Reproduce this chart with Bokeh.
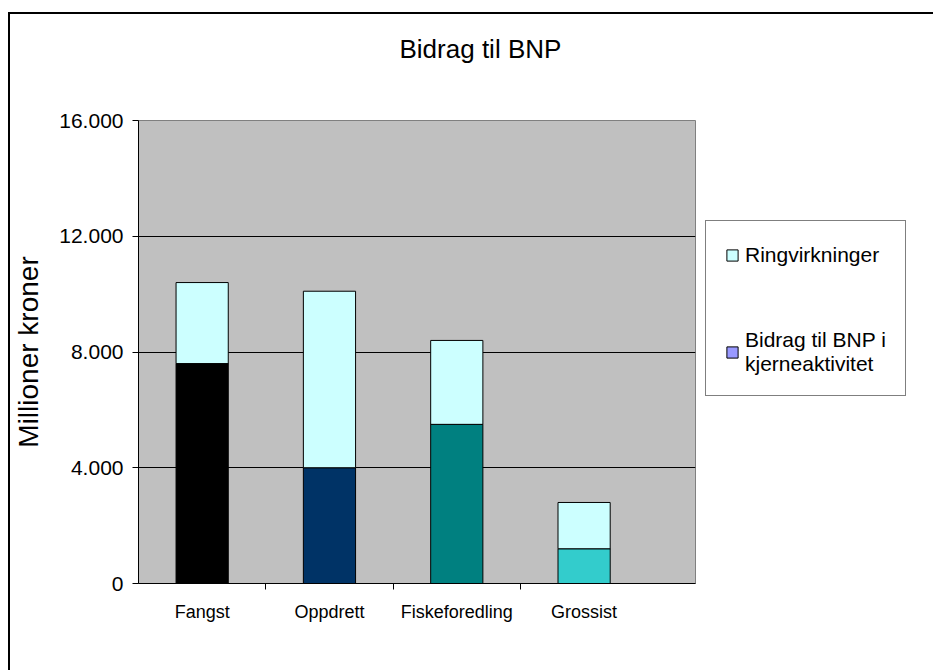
from bokeh.plotting import figure
from bokeh.models import (Range1d, FixedTicker, Legend, LegendItem,
                          ColumnDataSource, Title)
from bokeh.embed import file_html
from bokeh.resources import INLINE

# ---- data ----
categories = ["Fangst", "Oppdrett", "Fiskeforedling", "Grossist"]
kjerneaktivitet = [7600, 4000, 5500, 1200]
ringvirkninger = [2800, 6100, 2900, 1600]
core_colors = ["#000000", "#003366", "#008080", "#33CCCC"]
ring_color = "#CCFFFF"
legend_core_color = "#9999FF"
y_ticks = [0, 4000, 8000, 12000, 16000]
y_tick_labels = ["0", "4.000", "8.000", "12.000", "16.000"]

FONT = "Liberation Sans"

xpos = [i + 0.5 for i in range(len(categories))]
totals = [k + r for k, r in zip(kjerneaktivitet, ringvirkninger)]

src = ColumnDataSource(dict(
    x=xpos, kjerne=kjerneaktivitet, total=totals, ring=ringvirkninger,
    color=core_colors, cat=categories,
))

p = figure(
    frame_width=557, frame_height=463,
    x_range=Range1d(0, 4.375), y_range=Range1d(0, 16000),
    output_backend="svg", toolbar_location=None,
    min_border_left=127, min_border_right=20,
    min_border_top=106, min_border_bottom=87,
    background_fill_color="#C0C0C0", border_fill_color="white",
)
p.styles = {"margin-left": "8px", "margin-top": "12px",
            "border-left": "2px solid black", "border-top": "2px solid black"}
p.outline_line_color = "#808080"
p.outline_line_width = 1

p.title = None
spacer = Title(text=" ", standoff=37, text_font=FONT, text_font_size="1px")
title = Title(text="Bidrag til BNP", align="left", offset=261, standoff=34,
              text_font=FONT, text_font_size="26px", text_font_style="normal",
              text_color="black")
p.add_layout(spacer, "above")
p.add_layout(title, "above")

# bars
legend_core_r = p.vbar(x="x", bottom="kjerne", top="kjerne", width=0.41, source=src,
                       fill_color=legend_core_color, line_color="black", line_width=1)
core_r = p.vbar(x="x", bottom=0, top="kjerne", width=0.41, source=src,
                fill_color="color", line_color="black", line_width=1)
ring_r = p.vbar(x="x", bottom="kjerne", top="total", width=0.41, source=src,
                fill_color=ring_color, line_color="black", line_width=1)

# grid
p.xgrid.visible = False
p.ygrid.ticker = FixedTicker(ticks=y_ticks)
p.ygrid.grid_line_color = "black"
p.ygrid.grid_line_width = 1

# y axis
ya = p.yaxis[0]
ya.ticker = FixedTicker(ticks=y_ticks)
ya.major_label_overrides = {t: l for t, l in zip(y_ticks, y_tick_labels)}
ya.major_tick_out = 6
ya.major_tick_in = 0
ya.minor_tick_line_color = None
ya.major_label_standoff = 9
ya.major_label_text_font = FONT
ya.major_label_text_font_size = "21px"
ya.major_label_text_color = "black"
ya.axis_line_color = "black"
ya.major_tick_line_color = "black"
ya.axis_label = "Millioner kroner"
ya.axis_label_text_font = FONT
ya.axis_label_text_font_size = "28px"
ya.axis_label_text_font_style = "normal"
ya.axis_label_text_color = "black"
ya.axis_label_standoff = 12

# x axis
xa = p.xaxis[0]
xa.ticker = FixedTicker(ticks=xpos, minor_ticks=[1, 2, 3])
xa.major_label_overrides = {x: c for x, c in zip(xpos, categories)}
xa.major_tick_out = 0
xa.major_tick_in = 0
xa.minor_tick_out = 6
xa.minor_tick_in = 0
xa.minor_tick_line_color = "black"
xa.major_label_standoff = 12
xa.major_label_text_font = FONT
xa.major_label_text_font_size = "18px"
xa.major_label_text_color = "black"
xa.axis_line_color = "black"

# legend (outside the frame, to its right)
legend = Legend(
    items=[LegendItem(label="Ringvirkninger", renderers=[ring_r]),
           LegendItem(label="Bidrag til BNP i\nkjerneaktivitet", renderers=[legend_core_r])],
    location=(10, 187), margin=0,
    padding=19, spacing=58, label_height=30,
    glyph_width=14, glyph_height=14, label_standoff=6,
    label_text_font=FONT, label_text_font_size="21px", label_text_color="black",
    border_line_color="black", border_line_width=1,
    background_fill_color="white", background_fill_alpha=1,
)
p.add_layout(legend, "right")

open("out.html", "w").write(file_html(p, INLINE))
